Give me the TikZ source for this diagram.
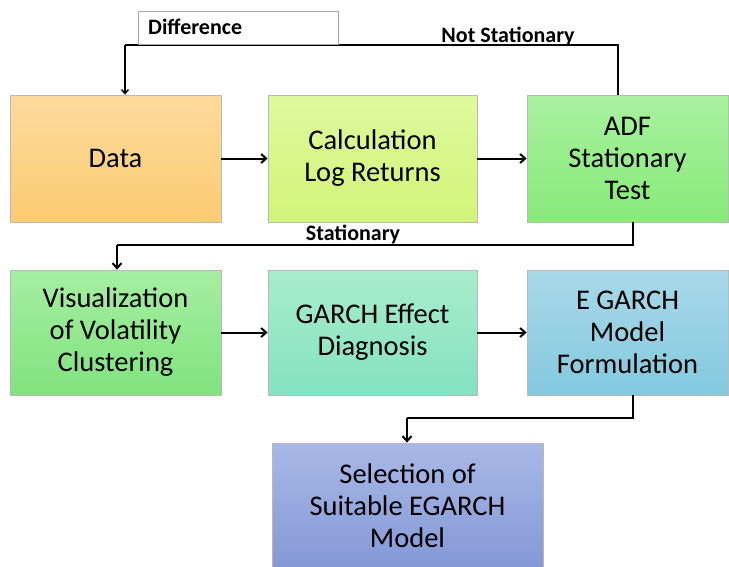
\documentclass[tikz,border=0pt]{standalone}
\usepackage{fontspec}
\setmainfont{Carlito}
\usetikzlibrary{arrows.meta}
\definecolor{dA}{HTML}{FDDA9C}\definecolor{dB}{HTML}{FCCB72}
\definecolor{cA}{HTML}{DFF89E}\definecolor{cB}{HTML}{D2F478}
\definecolor{aA}{HTML}{AAF0A0}\definecolor{aB}{HTML}{86EA78}
\definecolor{vA}{HTML}{A6EEA2}\definecolor{vB}{HTML}{80E37E}
\definecolor{gA}{HTML}{A8ECCC}\definecolor{gB}{HTML}{84E2C2}
\definecolor{eA}{HTML}{A8D9E8}\definecolor{eB}{HTML}{84C8DE}
\definecolor{sA}{HTML}{A8B8E6}\definecolor{sB}{HTML}{8498D6}
\tikzset{
  stepbox/.style={draw=gray!55, line width=0.8pt, minimum width=#1, align=center,
    font=\fontsize{28.5}{32}\selectfont, inner sep=0pt},
  flow/.style={line width=2pt, -{Straight Barb[length=5pt,width=9pt,line width=2pt]}},
  thinflow/.style={line width=1.4pt, -{Straight Barb[length=4pt,width=7pt,line width=1.4pt]}},
  lbl/.style={font=\fontsize{22}{24}\selectfont\bfseries, inner sep=0pt}
}
\begin{document}
\begin{tikzpicture}[x=1pt,y=-1pt]
\useasboundingbox (0,0) rectangle (729,566);
% row 1
\node[stepbox=211pt, minimum height=127pt, top color=dA, bottom color=dB] (data) at (115.5,158.5) {Data};
\node[stepbox=209pt, minimum height=127pt, top color=cA, bottom color=cB] (calc) at (372.5,158.5) {Calculation\\Log Returns};
\node[stepbox=201pt, minimum height=127pt, top color=aA, bottom color=aB] (adf) at (627.5,158.5) {ADF\\Stationary\\Test};
% row 2
\node[stepbox=211pt, minimum height=125pt, top color=vA, bottom color=vB] (vis) at (115.5,332.5) {Visualization\\of Volatility\\Clustering};
\node[stepbox=209pt, minimum height=125pt, top color=gA, bottom color=gB] (garch) at (372.5,332.5) {GARCH Effect\\Diagnosis};
\node[stepbox=201pt, minimum height=125pt, top color=eA, bottom color=eB] (egarch) at (627.5,332.5) {E GARCH\\Model\\Formulation};
% row 3
\node[stepbox=271pt, minimum height=126pt, top color=sA, bottom color=sB] (sel) at (407.5,506) {Selection of\\Suitable EGARCH\\Model};
% horizontal arrows
\draw[flow] (data.east) -- (calc.west);
\draw[flow] (calc.east) -- (adf.west);
\draw[flow] (vis.east) -- (garch.west);
\draw[flow] (garch.east) -- (egarch.west);
% feedback
\coordinate (fbR) at (618,45);
\coordinate (fbL) at (125,45);
\draw[line width=1.4pt] (adf.north -| fbR) -- (fbR) -- (fbL);
\draw[thinflow] (fbL) -- (data.north -| fbL);
\node[draw=gray!70, line width=0.8pt, minimum width=200pt, minimum height=33pt, anchor=south west, inner sep=0pt] (diffbox) at (138,45) {};
\node[lbl, anchor=west] (difflbl) at (148,27) {Difference};
\node[lbl] (nslbl) at (508,36) {Not Stationary};
% stationary
\coordinate (stR) at (633,245);
\coordinate (stL) at (117,245);
\draw[line width=2pt] (adf.south -| stR) -- (stR) -- (stL);
\draw[flow] (stL) -- (vis.north -| stL);
\node[lbl] (stlbl) at (353,234) {Stationary};
% to selection
\coordinate (bR) at (633,418);
\coordinate (bL) at (407,418);
\draw[line width=2pt] (egarch.south -| bR) -- (bR) -- (bL);
\draw[flow] (bL) -- (sel.north -| bL);
\end{tikzpicture}
\end{document}
